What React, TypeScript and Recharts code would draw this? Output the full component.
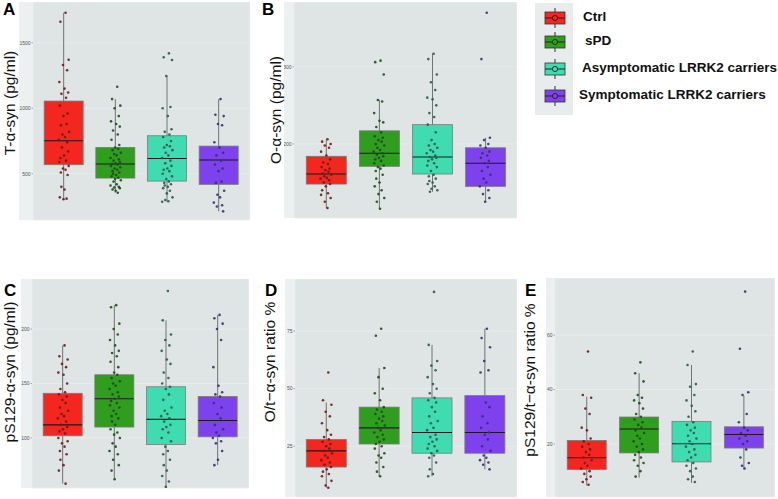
import React from "react";
import { ComposedChart, Bar, Scatter, XAxis, YAxis, CartesianGrid } from "recharts";

const GROUPS = ["Ctrl", "sPD", "Asymptomatic LRRK2 carriers", "Symptomatic LRRK2 carriers"];
const FILLS = ["#f3271f", "#2f9e1e", "#3edcb0", "#7d42ee"];
const DOTS = ["#6e1a1a", "#1f4a1c", "#2b5a4e", "#3a2f6e"];

// box stats: [low whisker, q1, median, q3, high whisker]
const totalBox = [
  [305, 569, 752, 1055, 1729],
  [355, 467, 574, 701, 1070],
  [286, 444, 617, 790, 1246],
  [213, 419, 605, 711, 1070],
];
const oligoBox = [
  [117, 148, 161, 184, 206],
  [116, 171, 188, 217, 257],
  [138, 161, 183, 225, 317],
  [125, 145, 175, 195, 208],
];
const pS129Box = [
  [58, 102, 112, 141, 185],
  [62, 110, 136, 158, 222],
  [55, 94, 117, 147, 208],
  [75, 101, 116, 138, 213],
];
const oRatioBox = [
  [7, 16, 23, 28, 44],
  [12, 26, 33, 42, 59],
  [12, 22, 31, 46, 69],
  [15, 22, 31, 47, 76],
];
const pRatioBox = [
  [4.7, 10.6, 14.9, 21.3, 37.4],
  [7.6, 16.7, 25.5, 29.9, 46],
  [5.7, 13.4, 20.1, 28.3, 49],
  [10.6, 18.5, 23.5, 26.3, 37.7],
];

// individual samples per group
const totalPts = [
  [1729, 1660, 1370, 1330, 1290, 1200, 1150, 1120, 1110, 1080, 1020, 960, 940, 880, 870, 820, 800, 780, 760, 740, 700, 670, 640, 620, 600, 590, 560, 540, 530, 510, 490, 400, 380, 320, 310, 305],
  [1164, 1070, 1020, 1000, 940, 900, 880, 860, 830, 800, 760, 720, 700, 690, 680, 660, 650, 640, 620, 610, 600, 590, 580, 575, 570, 560, 550, 540, 530, 520, 510, 500, 490, 480, 470, 460, 450, 440, 420, 410, 400, 395, 390, 380, 370, 355],
  [1419, 1389, 1368, 1246, 1010, 1000, 940, 840, 820, 800, 780, 750, 720, 710, 700, 680, 660, 640, 620, 600, 580, 560, 540, 530, 520, 500, 480, 460, 440, 430, 420, 410, 400, 390, 370, 350, 320, 300, 290, 286],
  [1070, 950, 940, 880, 870, 740, 700, 660, 640, 600, 570, 540, 520, 440, 430, 370, 340, 320, 280, 260, 250, 213],
];
const oligoPts = [
  [206, 203, 200, 198, 195, 190, 185, 180, 176, 174, 170, 168, 166, 164, 162, 160, 158, 156, 155, 153, 150, 148, 145, 140, 136, 134, 130, 125, 117],
  [308, 306, 290, 257, 255, 240, 230, 228, 222, 215, 210, 208, 205, 203, 200, 198, 195, 192, 190, 188, 186, 184, 182, 180, 178, 175, 172, 170, 168, 165, 160, 155, 150, 145, 140, 135, 130, 125, 116],
  [317, 310, 290, 280, 270, 260, 258, 250, 240, 235, 225, 215, 205, 200, 198, 195, 192, 190, 188, 185, 183, 182, 180, 178, 175, 172, 170, 165, 160, 158, 155, 152, 150, 148, 145, 142, 140, 138],
  [370, 310, 208, 205, 200, 198, 195, 190, 188, 185, 182, 178, 175, 170, 165, 160, 155, 150, 145, 140, 135, 130, 125],
];
const pS129Pts = [
  [185, 175, 172, 168, 165, 160, 158, 150, 145, 142, 140, 138, 135, 132, 128, 125, 122, 120, 118, 115, 112, 110, 108, 106, 104, 100, 97, 95, 92, 88, 85, 80, 75, 70, 58],
  [222, 220, 205, 200, 195, 190, 185, 180, 178, 175, 170, 165, 160, 158, 155, 152, 150, 148, 145, 142, 140, 138, 136, 134, 132, 130, 128, 125, 122, 120, 118, 115, 112, 108, 105, 103, 100, 95, 92, 88, 85, 80, 75, 70, 62],
  [235, 208, 195, 190, 185, 180, 172, 168, 160, 155, 150, 147, 145, 140, 135, 128, 125, 122, 120, 118, 115, 112, 110, 108, 105, 100, 97, 92, 88, 85, 80, 75, 70, 65, 60, 55],
  [213, 210, 205, 200, 190, 165, 148, 142, 140, 138, 132, 128, 122, 118, 112, 108, 105, 102, 100, 97, 95, 88, 80, 75],
];
const oRatioPts = [
  [57, 45, 43, 40, 38, 35, 32, 30, 29, 28, 27, 26, 25, 24, 23, 22, 21, 20, 19, 18, 17, 16, 15, 14, 13, 12, 10, 8, 7],
  [76, 73, 59, 55, 50, 48, 45, 42, 41, 40, 39, 38, 37, 36, 35, 34, 33, 32, 31, 30, 29, 28, 27, 26, 25, 24, 22, 21, 20, 18, 16, 14, 12],
  [92, 69, 62, 60, 58, 55, 52, 50, 48, 46, 45, 44, 42, 40, 38, 36, 35, 33, 32, 30, 29, 28, 27, 26, 25, 24, 23, 22, 21, 20, 18, 15, 13, 12],
  [76, 72, 68, 62, 58, 57, 44, 42, 38, 35, 33, 31, 30, 28, 25, 23, 21, 20, 19, 18, 17, 15],
];
const pRatioPts = [
  [54, 38, 37, 33, 31, 26, 25, 22, 21, 20, 19, 18, 17, 16, 15, 14, 13, 12, 11, 10, 9, 8, 7, 6, 5],
  [50, 46, 43, 38, 37, 36, 35, 33, 31, 30, 29, 28, 27, 26, 25, 24, 23, 22, 21, 20, 19, 18, 17, 16, 15, 14, 13, 12, 10, 8],
  [54, 49, 42, 41, 38, 36, 34, 32, 30, 28, 27, 26, 25, 24, 23, 22, 21, 20, 19, 18, 17, 16, 15, 14, 13, 12, 11, 10, 8, 7, 6],
  [76, 55, 39, 38, 31, 28, 26, 25, 24, 23, 22, 21, 20, 18, 15, 13, 12, 11],
];

// horizontal jitter of the dots, in category units
const JITTER = [0.03, -0.07, 0.09, -0.02, 0.06, -0.09, 0.01, 0.08, -0.05, 0.04, -0.08, 0.07, -0.01, 0.05, -0.06, 0.1, -0.03, 0.02, -0.1, 0.06, -0.04, 0.08, 0.0, -0.07, 0.04, -0.09, 0.09, -0.02, 0.03, -0.06, 0.07, -0.05, 0.01, -0.08, 0.05, -0.01, 0.1, -0.04, 0.02, -0.1, 0.06, -0.03, 0.08, -0.06, 0.0, 0.04, -0.09, 0.07];

const FONT = '"Liberation Sans", Arial, sans-serif';

const BoxShape = (props: any) => {
  const { x, y, width, height, payload } = props;
  const [lo, q1, med, q3, hi] = payload.stats;
  const top = Math.min(y, y + height);
  const bot = Math.max(y, y + height);
  const py = (v: number) => top + ((hi - v) / (hi - lo)) * (bot - top);
  const cx = x + width / 2;
  return (
    <g>
      <line x1={cx} x2={cx} y1={py(hi)} y2={py(lo)} stroke="#555" strokeWidth={0.8} />
      <rect x={x} y={py(q3)} width={width} height={py(q1) - py(q3)} fill={payload.fill} stroke="#7a7a7a" strokeWidth={0.8} />
      <line x1={x} x2={x + width} y1={py(med)} y2={py(med)} stroke="#1b1b1b" strokeWidth={1.1} />
    </g>
  );
};

interface PanelProps {
  letter: string;
  label: string;
  stats: number[][];
  points: number[][];
  domain: [number, number];
  ticks: number[];
  left: number;
  strip: number;
  plotW: number;
  top: number;
  plotH: number;
  labelX: number;
  labelY: number;
  letterX: number;
  letterY: number;
}

const Panel = (p: PanelProps) => {
  const rows = GROUPS.map((g, i) => ({ group: g, range: [p.stats[i][0], p.stats[i][4]], stats: p.stats[i], fill: FILLS[i] }));
  const pad = p.plotW / 42;
  const boxW = Math.round((0.75 * p.plotW) / 4.2);
  return (
    <>
      <div style={{ position: "absolute", left: p.left, top: p.top, width: p.strip + p.plotW, height: p.plotH, background: "#ecf0f0" }} />
      <div style={{ position: "absolute", left: p.left, top: p.top }}>
        <ComposedChart width={p.strip + p.plotW} height={p.plotH + 4} data={rows} margin={{ top: 0, right: 0, bottom: 0, left: 0 }} style={{ overflow: "visible" }}>
          <CartesianGrid xAxisId="c" yAxisId="m" fill="#dfe4e4" stroke="#eaeeee" strokeWidth={0.8} />
          <XAxis xAxisId="c" dataKey="group" type="category" padding={{ left: pad, right: pad }} height={4} tick={false} tickSize={2} tickLine={{ stroke: "#777", strokeWidth: 0.6 }} axisLine={false} />
          <XAxis xAxisId="j" orientation="top" dataKey="x" type="number" domain={[0.4, 4.6]} allowDataOverflow hide />
          <YAxis yAxisId="m" type="number" domain={p.domain} ticks={p.ticks} allowDataOverflow width={p.strip} tickSize={1.5} tickMargin={1} axisLine={false} tickLine={{ stroke: "#777", strokeWidth: 0.6 }} tick={{ fontSize: 5, fill: "#555", fontFamily: FONT }} />
          <YAxis yAxisId="j" orientation="right" dataKey="y" type="number" domain={p.domain} allowDataOverflow hide />
          <Bar xAxisId="c" yAxisId="m" dataKey="range" barSize={boxW} isAnimationActive={false} shape={(s: any) => <BoxShape {...s} />} />
          {p.points.map((vals, gi) => (
            <Scatter
              key={gi}
              xAxisId="j"
              yAxisId="j"
              data={vals.map((v, k) => ({ x: gi + 1 + JITTER[k % JITTER.length], y: v }))}
              isAnimationActive={false}
              shape={(s: any) => <circle cx={s.cx} cy={s.cy} r={1.3} fill={DOTS[gi]} fillOpacity={0.9} />}
            />
          ))}
        </ComposedChart>
      </div>
      <div style={{ position: "absolute", left: p.labelX, top: p.labelY, transform: "translate(-50%, -50%) rotate(-90deg)", whiteSpace: "nowrap", fontFamily: FONT, fontSize: 15.5, color: "#111" }}>{p.label}</div>
      <div style={{ position: "absolute", left: p.letterX, top: p.letterY, fontFamily: FONT, fontWeight: 700, fontSize: 17, lineHeight: "17px", color: "#000" }}>{p.letter}</div>
    </>
  );
};

const LegendKey = ({ color }: { color: string }) => (
  <svg width={24} height={20} style={{ display: "block" }}>
    <line x1={12} x2={12} y1={0} y2={20} stroke="#333" strokeWidth={1} />
    <rect x={2} y={4} width={20} height={12} fill={color} stroke="#333" strokeWidth={0.8} />
    <line x1={2} x2={22} y1={10} y2={10} stroke="#222" strokeWidth={1} />
    <circle cx={12} cy={10} r={2.6} fill={color} stroke="#222" strokeWidth={0.9} />
  </svg>
);

const LEGEND_Y = [18, 42, 69, 96];
const LEGEND_TX = [583, 585, 582, 579];

export default function App() {
  return (
    <div style={{ position: "absolute", left: 0, top: 0, width: 778, height: 499, background: "#fff", overflow: "hidden" }}>
      <Panel letter="A" label="T-α-syn (pg/ml)" stats={totalBox} points={totalPts} domain={[147, 1811]} ticks={[500, 1000, 1500]}
        left={19} strip={14} plotW={217} top={2} plotH={218} labelX={10} labelY={103} letterX={3} letterY={1} />
      <Panel letter="B" label="O-α-syn (pg/ml)" stats={oligoBox} points={oligoPts} domain={[104, 384]} ticks={[200, 300]}
        left={284} strip={10} plotW={223} top={2} plotH={216} labelX={276} labelY={110} letterX={262} letterY={1} />
      <Panel letter="C" label="pS129-α-syn (pg/ml)" stats={pS129Box} points={pS129Pts} domain={[54, 246]} ticks={[100, 150, 200]}
        left={21} strip={11} plotW={217} top={279} plotH={209} labelX={10} labelY={372} letterX={4} letterY={282} />
      <Panel letter="D" label="O/t−α-syn ratio %" stats={oRatioBox} points={oRatioPts} domain={[3, 97.6]} ticks={[25, 50, 75]}
        left={285} strip={10} plotW={222} top={279} plotH={218} labelX={270} labelY={362} letterX={265} letterY={282} />
      <Panel letter="E" label="pS129/t−α-syn ratio %" stats={pRatioBox} points={pRatioPts} domain={[0.5, 81]} ticks={[20, 40, 60]}
        left={546} strip={9} plotW={220} top={278} plotH={219} labelX={530} labelY={380} letterX={525} letterY={282} />

      <div style={{ position: "absolute", left: 535, top: 3, width: 38, height: 112, background: "#e8ecec" }} />
      {GROUPS.map((g, i) => (
        <React.Fragment key={g}>
          <div style={{ position: "absolute", left: 543, top: LEGEND_Y[i] - 10 }}>
            <LegendKey color={FILLS[i]} />
          </div>
          <div style={{ position: "absolute", left: LEGEND_TX[i], top: LEGEND_Y[i] - 9, fontFamily: FONT, fontWeight: 700, fontSize: 13.5, lineHeight: "16px", color: "#111", whiteSpace: "nowrap" }}>{g}</div>
        </React.Fragment>
      ))}
    </div>
  );
}
